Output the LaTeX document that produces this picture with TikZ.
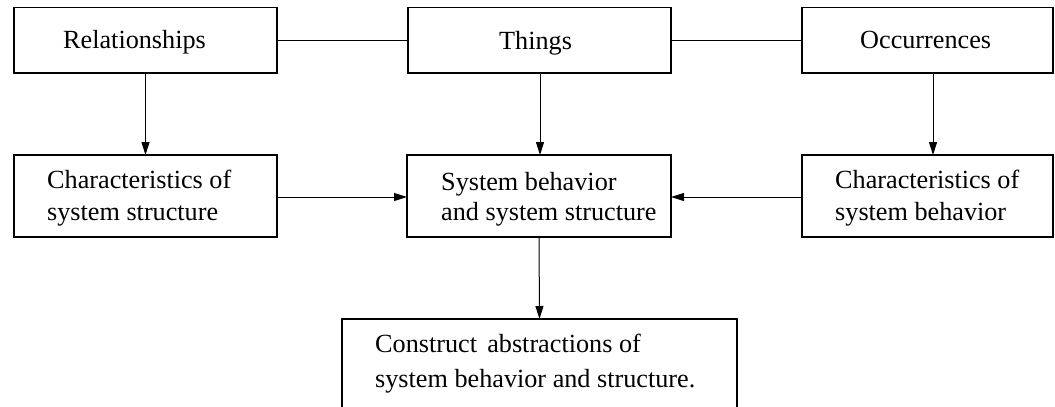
\documentclass[tikz,border=0pt]{standalone}
\usepackage{fontspec}
\setmainfont{Liberation Serif}
\usetikzlibrary{arrows.meta}
\begin{document}
\begin{tikzpicture}[x=1pt,y=-1pt,
  box/.style={draw,line width=1.5pt,rectangle,inner sep=0pt,outer sep=0pt},
  lbl/.style={anchor=base west,inner sep=0pt,font=\fontsize{26.2}{31}\selectfont},
  conn/.style={line width=1pt},
  arr/.style={line width=1pt,-{Triangle[length=13pt,width=8pt]}}]
\useasboundingbox (0,0) rectangle (1055,407);
% boxes
\node[box,minimum width=263pt,minimum height=65.5pt] (rel) at (145.5,40.25) {};
\node[box,minimum width=263pt,minimum height=65.5pt] (thi) at (539.5,40.25) {};
\node[box,minimum width=251pt,minimum height=65.5pt] (occ) at (927.5,40.25) {};
\node[box,minimum width=263pt,minimum height=82pt] (cst) at (145.5,196) {};
\node[box,minimum width=264pt,minimum height=82pt] (sys) at (539,196) {};
\node[box,minimum width=251pt,minimum height=82pt] (cbh) at (927.5,196) {};
\node[box,minimum width=395pt,minimum height=92pt] (con) at (539.5,365) {};
% texts
\node[lbl] (trel) at (63,48) {Relationships};
\node[lbl] (tthi) at (499,49) {Things};
\node[lbl] (tocc) at (860,48) {Occurrences};
\node[lbl] (tcst1) at (47,188) {Characteristics of};
\node[lbl] (tcst2) at (47,220) {system structure};
\node[lbl] (tsys1) at (441,190) {System behavior};
\node[lbl] (tsys2) at (441,220) {and system structure};
\node[lbl] (tcbh1) at (835,188) {Characteristics of};
\node[lbl] (tcbh2) at (835,220) {system behavior};
\node[lbl] (tcon1) at (375,352) {Construct\hspace{0.14em} abstractions of};
\node[lbl] (tcon2) at (375,387) {system behavior and structure.};
% connectors
\draw[conn] (rel.east) -- (thi.west);
\draw[conn] (thi.east) -- (occ.west);
\draw[arr] (rel.south) -- (cst.north);
\draw[arr] ([xshift=0.5pt]thi.south) -- ([xshift=1pt]sys.north);
\draw[arr] ([xshift=5.5pt]occ.south) -- ([xshift=5.5pt]cbh.north);
\draw[arr] ([yshift=-1pt]cst.east) -- ([yshift=-1pt]sys.west);
\draw[arr] ([yshift=-1pt]cbh.west) -- ([yshift=-1pt]sys.east);
\draw[arr] (sys.south) -- (con.north);
\end{tikzpicture}
\end{document}
